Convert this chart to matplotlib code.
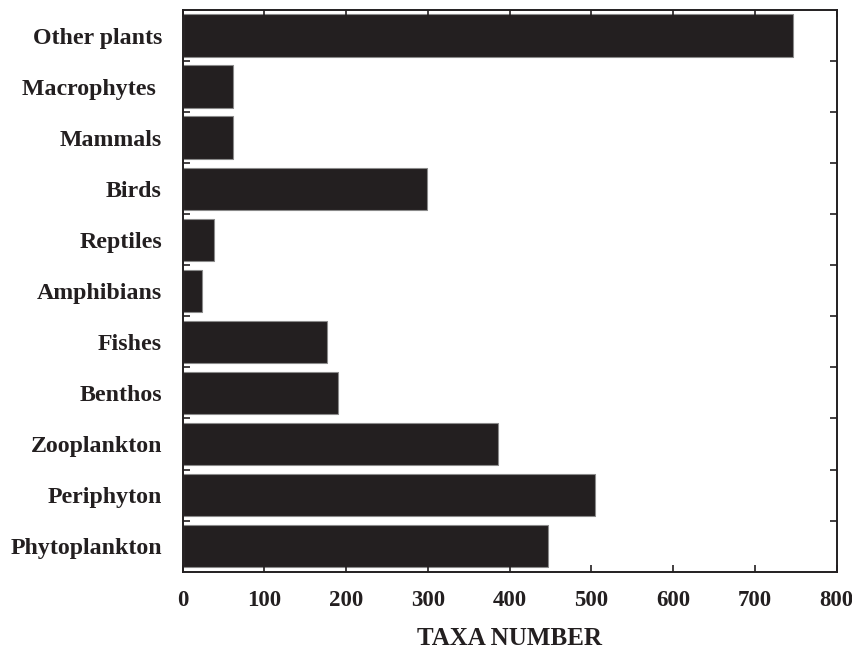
import matplotlib
matplotlib.use('Agg')
import matplotlib.pyplot as plt
import numpy as np

# Categorie (dal basso verso l'alto) e numero di taxa
categorie = ['Phytoplankton', 'Periphyton', 'Zooplankton', 'Benthos', 'Fishes',
             'Amphibians', 'Reptiles', 'Birds', 'Mammals', 'Macrophytes ', 'Other plants']
taxa = [447, 504, 386, 190, 177, 24, 38, 299, 62, 62, 746]
xticks = [0, 100, 200, 300, 400, 500, 600, 700, 800]

plt.rcParams['font.family'] = ['Liberation Serif', 'DejaVu Serif']
plt.rcParams['font.weight'] = 'bold'

fig = plt.figure(figsize=(8.53, 6.52), dpi=100)
ax = fig.add_axes([0.2142, 0.1232, 0.7667, 0.8615])

y = np.arange(len(categorie))
ax.barh(y, taxa, height=0.83, color='#231f20', edgecolor='#8a8a8a', linewidth=0.8)

ax.set_xlim(0, 800)
ax.set_ylim(-0.5, len(categorie) - 0.5)
ax.set_xticks(xticks)
ax.set_xticklabels([str(v) for v in xticks], fontsize=16.5, fontweight='bold', color='#231f20')
ax.set_yticks(y)
ax.set_yticklabels(categorie, fontsize=17.2, fontweight='bold', color='#231f20')
ax.set_yticks(np.arange(len(categorie) - 1) + 0.5, minor=True)

ax.tick_params(axis='y', which='major', length=0, pad=15)
ax.tick_params(axis='y', which='minor', direction='in', length=5, width=1.2,
               left=True, right=True, color='#231f20')
ax.tick_params(axis='x', which='major', direction='in', length=5, width=1.2,
               top=True, bottom=True, pad=13, color='#231f20')

for s in ax.spines.values():
    s.set_linewidth(1.4)
    s.set_color('#231f20')

ax.set_xlabel('TAXA NUMBER', fontsize=18, fontweight='bold', labelpad=12, color='#231f20')

fig.savefig('out.png', dpi=100)
